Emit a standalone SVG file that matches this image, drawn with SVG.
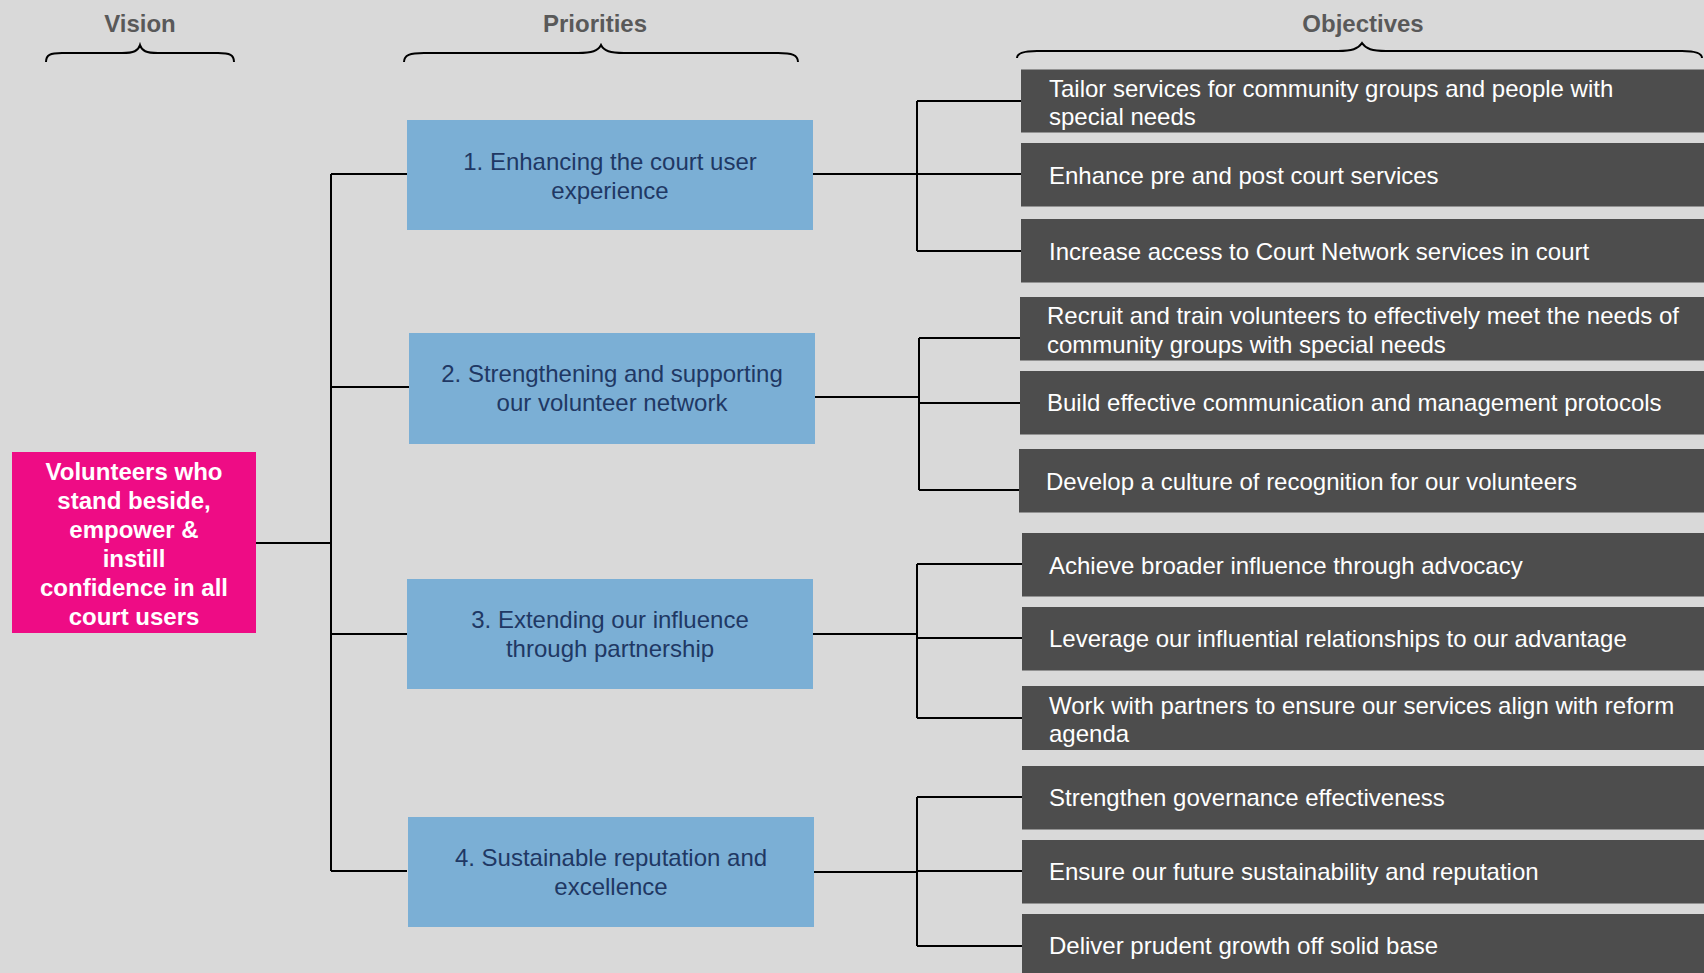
<svg xmlns="http://www.w3.org/2000/svg" width="1704" height="973" viewBox="0 0 1704 973">
  <style>
    .hdr { font-family: "Liberation Sans", Arial, sans-serif; font-weight: bold; font-size: 24px; fill: #595959; text-anchor: middle; }
    .brace { fill: none; stroke: #000; stroke-width: 2; }
    .line { fill: none; stroke: #000; stroke-width: 2; }
    .vision { fill: #EE0C85; }
    .vision-t { font-family: "Liberation Sans", Arial, sans-serif; font-weight: bold; font-size: 24px; fill: #fff; text-anchor: middle; }
    .prio { fill: #7BAFD5; }
    .prio-t { font-family: "Liberation Sans", Arial, sans-serif; font-size: 24px; fill: #1F3864; text-anchor: middle; }
    .obj { fill: #4D4D4D; }
    .obj-t { font-family: "Liberation Sans", Arial, sans-serif; font-size: 24px; fill: #fff; }
  </style>

  <rect width="1704" height="973" fill="#D9D9D9"/>

  <!-- column headings with braces -->
  <g id="headings">
    <text class="hdr" x="140" y="32">Vision</text>
    <text class="hdr" x="595" y="32">Priorities</text>
    <text class="hdr" x="1363" y="32">Objectives</text>
    <path class="brace" d="M46,62 C46,55 50,53 62,53 L122,53 C134,53 138,51 140,45 C142,51 146,53 158,53 L218,53 C230,53 234,55 234,62"/>
    <path class="brace" d="M404,62 C404,55 410,53 424,53 L578,53 C592,53 598,51 601,45 C604,51 610,53 624,53 L778,53 C792,53 798,55 798,62"/>
    <path class="brace" d="M1017,58 C1017,53 1023,51 1037,51 L1338,51 C1352,51 1358,49 1362,43 C1366,49 1372,51 1386,51 L1682,51 C1696,51 1702,53 1702,58"/>
  </g>

  <!-- connectors -->
  <g id="connectors">
    <!-- vision to priorities -->
    <path class="line" d="M256,543 H331"/>
    <path class="line" d="M331,174 V871"/>
    <path class="line" d="M331,174 H407"/>
    <path class="line" d="M331,387 H409"/>
    <path class="line" d="M331,634 H407"/>
    <path class="line" d="M331,871 H407"/>
    <!-- priority 1 to objectives -->
    <path class="line" d="M813,174 H917"/>
    <path class="line" d="M917,101 V251"/>
    <path class="line" d="M917,101 H1021 M917,174 H1021 M917,251 H1021"/>
    <!-- priority 2 to objectives -->
    <path class="line" d="M815,397 H919"/>
    <path class="line" d="M919,338 V490"/>
    <path class="line" d="M919,338 H1020 M919,403 H1020 M919,490 H1020"/>
    <!-- priority 3 to objectives -->
    <path class="line" d="M813,634 H917"/>
    <path class="line" d="M917,564 V718"/>
    <path class="line" d="M917,564 H1022 M917,638 H1022 M917,718 H1022"/>
    <!-- priority 4 to objectives -->
    <path class="line" d="M814,872 H917"/>
    <path class="line" d="M917,797 V946"/>
    <path class="line" d="M917,797 H1022 M917,871 H1022 M917,946 H1022"/>
  </g>

  <!-- vision -->
  <g id="vision">
    <rect class="vision" x="12" y="452" width="244" height="181"/>
    <text class="vision-t" x="134" y="480">Volunteers who</text>
    <text class="vision-t" x="134" y="509">stand beside,</text>
    <text class="vision-t" x="134" y="538">empower &amp;</text>
    <text class="vision-t" x="134" y="567">instill</text>
    <text class="vision-t" x="134" y="596">confidence in all</text>
    <text class="vision-t" x="134" y="625">court users</text>
  </g>

  <!-- priorities -->
  <g id="priority-1">
    <rect class="prio" x="407" y="120" width="406" height="110"/>
    <text class="prio-t" x="610" y="170">1. Enhancing the court user</text>
    <text class="prio-t" x="610" y="198.5">experience</text>
  </g>
  <g id="priority-2">
    <rect class="prio" x="409" y="333" width="406" height="111"/>
    <text class="prio-t" x="612" y="382">2. Strengthening and supporting</text>
    <text class="prio-t" x="612" y="411">our volunteer network</text>
  </g>
  <g id="priority-3">
    <rect class="prio" x="407" y="579" width="406" height="110"/>
    <text class="prio-t" x="610" y="628">3. Extending our influence</text>
    <text class="prio-t" x="610" y="657">through partnership</text>
  </g>
  <g id="priority-4">
    <rect class="prio" x="408" y="817" width="406" height="110"/>
    <text class="prio-t" x="611" y="866">4. Sustainable reputation and</text>
    <text class="prio-t" x="611" y="895">excellence</text>
  </g>

  <!-- objectives for priority 1 -->
  <g id="objective-1-1">
    <rect class="obj" x="1021" y="69.5" width="683" height="63"/>
    <text class="obj-t" x="1049" y="96.5">Tailor services for community groups and people with</text>
    <text class="obj-t" x="1049" y="124.5">special needs</text>
  </g>
  <g id="objective-1-2">
    <rect class="obj" x="1021" y="143" width="683" height="63.5"/>
    <text class="obj-t" x="1049" y="184">Enhance pre and post court services</text>
  </g>
  <g id="objective-1-3">
    <rect class="obj" x="1021" y="219" width="683" height="63.5"/>
    <text class="obj-t" x="1049" y="259.5">Increase access to Court Network services in court</text>
  </g>

  <!-- objectives for priority 2 -->
  <g id="objective-2-1">
    <rect class="obj" x="1020" y="297" width="684" height="63.5"/>
    <text class="obj-t" x="1047" y="324">Recruit and train volunteers to effectively meet the needs of</text>
    <text class="obj-t" x="1047" y="352.5">community groups with special needs</text>
  </g>
  <g id="objective-2-2">
    <rect class="obj" x="1020" y="371" width="684" height="63.5"/>
    <text class="obj-t" x="1047" y="411">Build effective communication and management protocols</text>
  </g>
  <g id="objective-2-3">
    <rect class="obj" x="1019" y="449" width="685" height="63.5"/>
    <text class="obj-t" x="1046" y="489.5">Develop a culture of recognition for our volunteers</text>
  </g>

  <!-- objectives for priority 3 -->
  <g id="objective-3-1">
    <rect class="obj" x="1022" y="533" width="682" height="63.5"/>
    <text class="obj-t" x="1049" y="573.5">Achieve broader influence through advocacy</text>
  </g>
  <g id="objective-3-2">
    <rect class="obj" x="1022" y="607" width="682" height="63.5"/>
    <text class="obj-t" x="1049" y="647">Leverage our influential relationships to our advantage</text>
  </g>
  <g id="objective-3-3">
    <rect class="obj" x="1022" y="686" width="682" height="64"/>
    <text class="obj-t" x="1049" y="713.5">Work with partners to ensure our services align with reform</text>
    <text class="obj-t" x="1049" y="742">agenda</text>
  </g>

  <!-- objectives for priority 4 -->
  <g id="objective-4-1">
    <rect class="obj" x="1022" y="766" width="682" height="63.5"/>
    <text class="obj-t" x="1049" y="806">Strengthen governance effectiveness</text>
  </g>
  <g id="objective-4-2">
    <rect class="obj" x="1022" y="840" width="682" height="63.5"/>
    <text class="obj-t" x="1049" y="880">Ensure our future sustainability and reputation</text>
  </g>
  <g id="objective-4-3">
    <rect class="obj" x="1022" y="914" width="682" height="59"/>
    <text class="obj-t" x="1049" y="954">Deliver prudent growth off solid base</text>
  </g>
</svg>
